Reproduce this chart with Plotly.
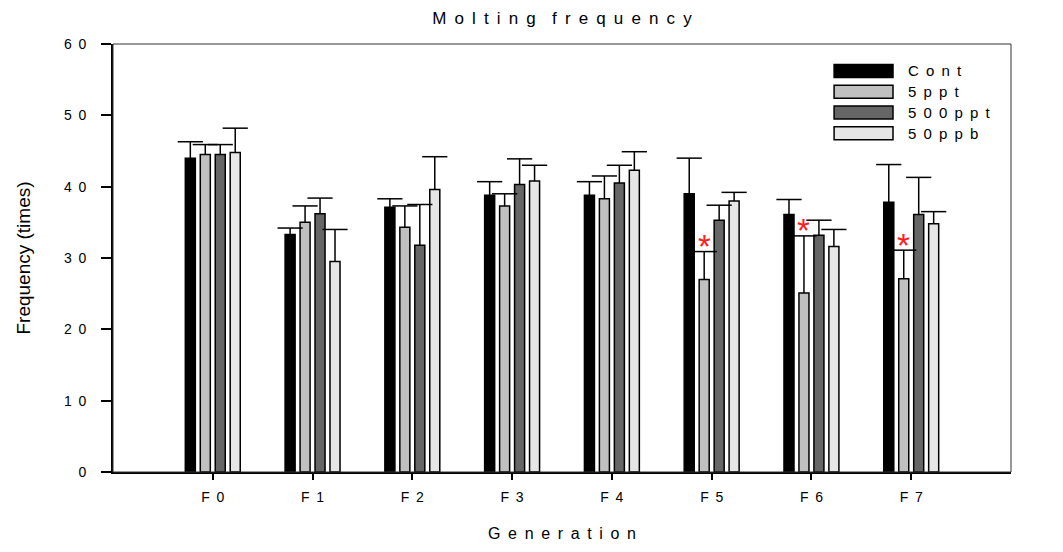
import plotly.graph_objects as go

# ── Data ─────────────────────────────────────────────────────────────────────
GENERATIONS = ["F0", "F1", "F2", "F3", "F4", "F5", "F6", "F7"]
SERIES      = ["Cont", "5ppt", "500ppt", "50ppb"]
COLORS      = ["#000000", "#c0c0c0", "#666666", "#e6e6e6"]

cont_mean   = [44.0, 33.3, 37.1, 38.8, 38.8, 39.0, 36.1, 37.8]
ppt5_mean   = [44.5, 35.0, 34.3, 37.3, 38.3, 27.0, 25.1, 27.1]
ppt500_mean = [44.5, 36.2, 31.8, 40.3, 40.5, 35.3, 33.2, 36.1]
ppb50_mean  = [44.8, 29.5, 39.6, 40.8, 42.3, 38.0, 31.6, 34.8]

cont_err    = [2.3, 0.9, 1.2, 1.9, 1.9, 5.0, 2.1, 5.3]
ppt5_err    = [1.4, 2.3, 3.0, 1.7, 3.2, 3.9, 8.0, 4.0]
ppt500_err  = [1.4, 2.2, 5.7, 3.6, 2.5, 2.1, 2.1, 5.2]
ppb50_err   = [3.4, 4.5, 4.6, 2.2, 2.6, 1.2, 2.4, 1.7]

# significance marks (*) on the 5ppt series
ppt5_signif = [False, False, False, False, False, True, True, True]

MEANS = [cont_mean, ppt5_mean, ppt500_mean, ppb50_mean]
ERRS  = [cont_err, ppt5_err, ppt500_err, ppb50_err]

Y_TICKS = [0, 10, 20, 30, 40, 50, 60]

# ── Style ────────────────────────────────────────────────────────────────────
FONT     = "Arial, 'Liberation Sans', sans-serif"
BARGAP   = 0.4
GROUPGAP = 0.33
SEP      = " \u2009"                 # wide letter tracking like the original
WORDSEP  = " \u2009 \u2009"

# page body has an 8px margin, so the figure is drawn 8px smaller
W, H = 1055, 544


def spaced(s):
    return WORDSEP.join(SEP.join(w) for w in s.split(" "))


x_idx = list(range(len(GENERATIONS)))
slot = (1 - BARGAP) / len(SERIES)

fig = go.Figure()

for name, color, mean in zip(SERIES, COLORS, MEANS):
    fig.add_trace(go.Bar(
        x=x_idx, y=mean, name=name,
        marker=dict(color=color, line=dict(color="black", width=1.5)),
        showlegend=False,
    ))

# upper-only error bars: cap marker at mean+err, stem down to bar top
for k, (mean, err) in enumerate(zip(MEANS, ERRS)):
    off = (k - (len(SERIES) - 1) / 2) * slot
    fig.add_trace(go.Scatter(
        x=[i + off for i in x_idx],
        y=[m + e for m, e in zip(mean, err)],
        mode="markers",
        marker=dict(symbol="line-ew", size=18, color="black",
                    line=dict(color="black", width=1.5)),
        error_y=dict(type="data", symmetric=False,
                     array=[0] * len(err), arrayminus=err,
                     width=0, thickness=1.5, color="black"),
        showlegend=False, hoverinfo="skip",
    ))

# red asterisks above the significant 5ppt bars
off5 = (1 - (len(SERIES) - 1) / 2) * slot
for i, flag in enumerate(ppt5_signif):
    if flag:
        fig.add_annotation(
            x=i + off5, y=ppt5_mean[i] + ppt5_err[i],
            text="*", showarrow=False, yanchor="middle", yshift=5,
            font=dict(family=FONT, size=33, color="#ff2020"),
        )

# legend drawn as wide swatches like the original
for k, (name, color) in enumerate(zip(SERIES, COLORS)):
    yc = 0.937 - k * 0.0485
    fig.add_shape(type="rect", xref="paper", yref="paper",
                  x0=0.803, x1=0.8686, y0=yc - 0.015, y1=yc + 0.015,
                  fillcolor=color, line=dict(color="black", width=1.5))
    fig.add_annotation(xref="paper", yref="paper", x=0.883, y=yc,
                       xanchor="left", yanchor="middle", showarrow=False,
                       text=spaced(name),
                       font=dict(family=FONT, size=15, color="black"))

# thin top/right frame
fig.add_shape(type="rect", xref="paper", yref="paper", x0=0, x1=1, y0=0, y1=1,
              line=dict(color="#333333", width=1), layer="above")

fig.update_layout(
    width=W, height=H,
    margin=dict(l=105, r=52, t=36, b=76),
    barmode="group", bargap=BARGAP, bargroupgap=GROUPGAP,
    plot_bgcolor="white", paper_bgcolor="white",
    font=dict(family=FONT, size=14, color="black"),
    title=dict(text=spaced("Molting frequency"), x=0.5, xref="paper",
               y=1 - 10 / H, yanchor="middle",
               font=dict(family=FONT, size=17, color="black")),
)

fig.update_xaxes(
    range=[-1, len(GENERATIONS)], tickvals=x_idx,
    ticktext=[spaced(g) for g in GENERATIONS],
    showline=True, linecolor="black", linewidth=2,
    ticks="outside", ticklen=6, tickwidth=1.5, tickcolor="black",
    ticklabelstandoff=5, showgrid=False, zeroline=False,
    title=dict(text=spaced("Generation"), standoff=24,
               font=dict(family=FONT, size=16, color="black")),
)
fig.update_yaxes(
    range=[0, 60], tickvals=Y_TICKS,
    ticktext=[spaced(str(v)) for v in Y_TICKS],
    showline=True, linecolor="black", linewidth=2,
    ticks="outside", ticklen=10, tickwidth=1.5, tickcolor="black",
    ticklabelstandoff=12, showgrid=False, zeroline=False,
    title=dict(text="Frequency (times)", standoff=28,
               font=dict(family=FONT, size=19, color="black")),
)

fig.write_html("out.html")
